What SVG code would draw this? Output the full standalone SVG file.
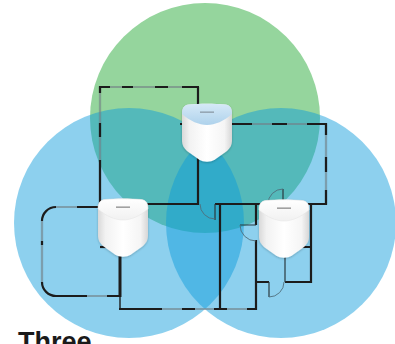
<svg xmlns="http://www.w3.org/2000/svg" xmlns:xlink="http://www.w3.org/1999/xlink" width="395" height="344" viewBox="0 0 395 344">
<style>
.green{fill:#95d59d}
.blue{fill:#0a9ada;fill-opacity:0.465}
.win{fill:none;stroke:#4a5a62;stroke-opacity:0.55;stroke-width:2.2}
.winc{fill:none;stroke:#ffffff;stroke-opacity:0.35;stroke-width:0.8}
.wall{fill:none;stroke:#1c1c1c;stroke-width:2.2}
.thick{fill:none;stroke:#1c1c1c;stroke-width:3}
.door{fill:none;stroke:#4f6e7c;stroke-width:0.9}
.leaf{fill:none;stroke:#2a3a40;stroke-width:1.2}
.title{font-family:"Liberation Sans",Arial,sans-serif;font-weight:bold;font-size:27px;fill:#1a1a1a}
</style>
<defs>
<linearGradient id="body" x1="0" y1="0" x2="1" y2="0">
<stop offset="0" stop-color="#d9d9d9"/>
<stop offset="0.15" stop-color="#f2f2f2"/>
<stop offset="0.5" stop-color="#ffffff"/>
<stop offset="0.85" stop-color="#f5f5f5"/>
<stop offset="1" stop-color="#d6d6d6"/>
</linearGradient>
<linearGradient id="capw" x1="0" y1="0" x2="0" y2="1">
<stop offset="0" stop-color="#ffffff"/>
<stop offset="1" stop-color="#f1f1f1"/>
</linearGradient>
<linearGradient id="capb" x1="0" y1="0" x2="0" y2="1">
<stop offset="0" stop-color="#d6e9f7"/>
<stop offset="1" stop-color="#aed2ec"/>
</linearGradient>
<filter id="sh" x="-20%" y="-20%" width="140%" height="140%">
<feDropShadow dx="0" dy="1" stdDeviation="1.2" flood-color="#000" flood-opacity="0.22"/>
</filter>
<path id="rbody" d="M7,0.5 C18,-0.5 32,-0.5 43,0.5 C48,1 50,4 50,10 L50,37 C50,41 48,44 45,47 L33,55.5 C28,58.5 22,58.5 17,55.5 L5,47 C2,44 0,41 0,37 L0,10 C0,4 2,1 7,0.5 Z"/>
<path id="rcap" d="M7,0.5 C18,-0.5 32,-0.5 43,0.5 C48,1 50,4 50,10 C42,17 33,21 25,21 C17,21 8,17 0,10 C0,4 2,1 7,0.5 Z"/>
</defs>

<g id="coverage">
<circle class="green" cx="205" cy="118" r="115"/>
<circle class="blue" cx="129" cy="223" r="115"/>
<circle class="blue" cx="281" cy="223" r="115"/>
</g>

<g id="floorplan">
<g id="windows">
<path class="win" d="M100,87 H198 M100,87 V207 M180,124 H326 M326,124 V204 M56,207 H77 M42,221 V282 M56,296 H120 M120,309 H257"/>
<path class="winc" d="M100,87 H198 M100,87 V207 M180,124 H326 M326,124 V204 M56,207 H77 M42,221 V282 M56,296 H120 M120,309 H257"/>
</g>
<g id="walls">
<path class="wall" d="M99,87 H110 M122,87 H133 M155,87 H168 M182,87 H199"/>
<path class="wall" d="M100,86 V93 M100,123 V137 M100,160 V207"/>
<path class="wall" d="M198,87 V205 M140,204 H198"/>
<path class="wall" d="M180,124 H252 M272,124 H287 M307,124 H327"/>
<path class="wall" d="M326,123 V135 M326,157 V172 M326,190 V205"/>
<path class="wall" d="M215,204 H326"/>
<path class="wall" d="M220,204 V310"/>
<path class="wall" d="M256,204 V225 M256,240 V310 M256,282 H269"/>
<path class="wall" d="M285,282 H311 V204 M285,247 H311"/>
<path class="wall" d="M100,247 H106"/>
<path class="wall" d="M42,221 A14,14 0 0 1 56,207 M77,207 H100"/>
<path class="wall" d="M42,241 V245"/>
<path class="wall" d="M42,282 A14,14 0 0 0 56,296 H87 M107,296 H121"/>
<path class="thick" d="M120,250 V297"/>
<path class="wall" style="stroke-width:1.4" d="M120,296 V309"/>
<path class="wall" d="M119,309 H162 M182,309 H195 M214,309 H227 M247,309 H257"/>
</g>
<g id="doors">
<path class="leaf" d="M215,204 V220 M256,225 H240 M269,282 V297 M283,204 V189 M285,255 V282"/>
<path class="door" d="M200,204 A15,15 0 0 0 215,219 M240,225 A16,16 0 0 0 256,241 M269,297 A15,15 0 0 0 284,282 M268,204 A15,15 0 0 1 283,189"/>
</g>
</g>

<g id="router-top" transform="translate(182,104)" filter="url(#sh)">
<use xlink:href="#rbody" href="#rbody" fill="url(#body)"/>
<use xlink:href="#rcap" href="#rcap" fill="url(#capb)"/>
<rect x="18" y="7.5" width="14" height="1.3" fill="#8a9aa6"/>
</g>

<g id="router-left" transform="translate(98,199)" filter="url(#sh)">
<use xlink:href="#rbody" href="#rbody" fill="url(#body)"/>
<use xlink:href="#rcap" href="#rcap" fill="url(#capw)" stroke="#e2e2e2" stroke-width="0.5"/>
<rect x="18" y="7.5" width="14" height="1.3" fill="#8c8c8c"/>
</g>

<g id="router-right" transform="translate(259,200)" filter="url(#sh)">
<use xlink:href="#rbody" href="#rbody" fill="url(#body)"/>
<use xlink:href="#rcap" href="#rcap" fill="url(#capw)" stroke="#e2e2e2" stroke-width="0.5"/>
<rect x="18" y="7.5" width="14" height="1.3" fill="#8c8c8c"/>
</g>

<text class="title" x="18" y="351">Three</text>
</svg>
